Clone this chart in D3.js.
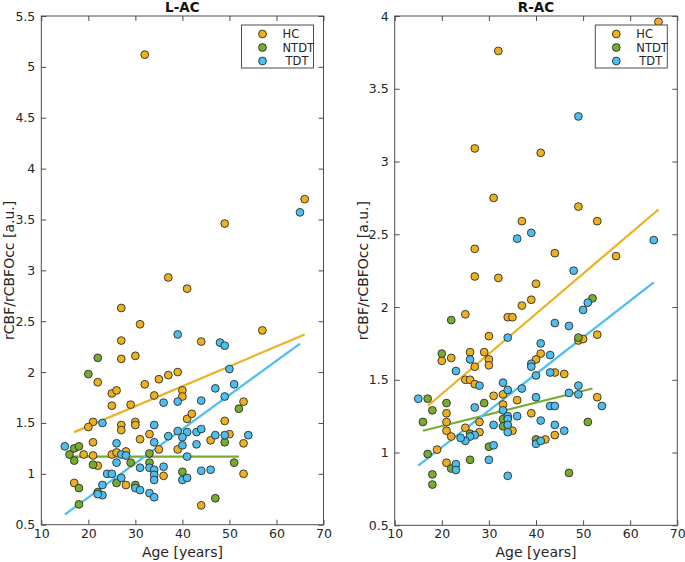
<!DOCTYPE html>
<html><head><meta charset="utf-8">
<script src="https://cdn.jsdelivr.net/npm/d3@7"></script>
<style>body{margin:0;background:#fff}svg{display:block;font-family:"DejaVu Sans",sans-serif}</style>
</head><body><svg id="c" width="685" height="562"></svg>
<script>
const groups = ["HC","NTDT","TDT"];
const colors = ["#EDB120","#77AC30","#4DBEEE"];
const xTicks = [10,20,30,40,50,60,70];
const leftYTicks = [0.5,1,1.5,2,2.5,3,3.5,4,4.5,5,5.5];
const rightYTicks = [0.5,1,1.5,2,2.5,3,3.5,4];

// L-AC data [age, value]
const lacHC = [[32,5.12],[66,3.70],[49,3.46],[37,2.93],[41,2.82],[27,2.63],[31,2.47],[57,2.41],[27,2.31],[44,2.30],[30,2.16],[27,2.13],[22,1.90],[25,1.79],[26,1.82],[25,1.67],[29,1.68],[32,1.88],[35,1.93],[37,1.97],[39,2.00],[34,1.77],[40,1.82],[40,1.76],[21,1.51],[20,1.46],[27,1.48],[27,1.43],[30,1.51],[30,1.48],[31,1.34],[33,1.39],[41,1.54],[42,1.59],[49,1.52],[53,1.71],[50,1.39],[46,1.33],[53,1.30],[53,1.00],[21,1.31],[19,1.19],[21,1.18],[22,1.08],[25,1.19],[26,1.21],[28,1.22],[35,1.24],[39,1.24],[17,0.91],[28,0.89],[36,0.98],[44,0.69]];
const lacNTDT = [[22,2.14],[20,1.98],[17,1.25],[18,1.27],[16,1.19],[17,1.13],[21,1.09],[29,1.11],[33,1.11],[33,1.20],[40,1.02],[18,0.86],[26,0.91],[30,0.89],[22,0.82],[18,0.70],[52,1.64],[49,1.31],[51,1.11],[47,0.76]];
const lacTDT = [[65,3.57],[39,2.37],[48,2.29],[49,2.26],[50,2.03],[51,1.88],[47,1.84],[49,1.76],[44,1.72],[36,1.70],[39,1.71],[23,1.50],[34,1.48],[41,1.41],[43,1.41],[44,1.44],[47,1.38],[49,1.38],[54,1.38],[37,1.37],[40,1.36],[39,1.42],[43,1.29],[26,1.30],[34,1.31],[15,1.27],[27,1.19],[28,1.18],[26,1.11],[41,1.17],[40,1.28],[31,1.06],[33,1.06],[34,1.04],[34,0.99],[34,0.94],[36,1.07],[24,1.00],[25,1.00],[27,0.96],[23,0.89],[23,0.79],[30,0.86],[31,0.84],[33,0.81],[34,0.77],[40,0.94],[41,0.96],[44,1.03],[46,1.04],[22,0.80]];
const lacFitHC = [[17,1.41],[66,2.37]];
const lacFitNTDT = [[16,1.17],[52,1.17]];
const lacFitTDT = [[15,0.60],[65,2.28]];

// R-AC data [age, value]
const racHC = [[66,3.96],[32,3.76],[27,3.09],[41,3.06],[31,2.75],[49,2.69],[53,2.59],[37,2.59],[27,2.40],[44,2.37],[57,2.35],[27,2.21],[32,2.20],[40,2.16],[39,2.05],[37,2.01],[25,1.95],[34,1.93],[35,1.93],[30,1.80],[49,1.77],[50,1.78],[53,1.81],[20,1.63],[22,1.65],[26,1.69],[29,1.69],[30,1.64],[30,1.60],[41,1.68],[40,1.64],[27,1.59],[25,1.50],[26,1.50],[27,1.47],[46,1.54],[44,1.55],[21,1.27],[21,1.21],[21,1.15],[22,1.11],[19,1.02],[21,0.93],[31,1.39],[33,1.40],[36,1.36],[39,1.27],[33,1.33],[35,1.15],[28,1.21],[28,1.14],[25,1.17],[53,1.38],[44,1.12],[42,1.09]];
const racNTDT = [[52,2.06],[22,1.91],[20,1.68],[49,1.79],[17,1.37],[18,1.29],[21,1.34],[16,1.21],[17,0.99],[22,0.89],[18,0.85],[18,0.78],[29,1.34],[33,1.23],[33,1.18],[26,1.13],[30,1.04],[26,0.95],[40,1.09],[51,1.21],[47,0.86]];
const racTDT = [[49,3.31],[36,2.47],[39,2.51],[65,2.46],[48,2.25],[51,2.03],[50,1.98],[44,1.89],[47,1.87],[34,1.79],[41,1.75],[26,1.64],[43,1.67],[39,1.61],[39,1.59],[23,1.56],[28,1.46],[40,1.53],[43,1.55],[15,1.37],[27,1.31],[33,1.48],[34,1.43],[37,1.44],[40,1.38],[33,1.29],[34,1.25],[34,1.23],[34,1.19],[34,1.14],[36,1.25],[31,1.19],[27,1.12],[26,1.11],[25,1.08],[24,1.10],[31,1.05],[30,0.95],[34,0.84],[40,1.06],[41,1.22],[41,1.08],[49,1.46],[47,1.41],[49,1.40],[54,1.32],[43,1.32],[44,1.32],[44,1.19],[46,1.15],[23,0.92],[23,0.88]];
const racFitHC = [[17,1.32],[66,2.67]];
const racFitNTDT = [[16,1.15],[52,1.44]];
const racFitTDT = [[15,0.91],[65,2.17]];

const svg = d3.select("#c");
const axisColor = "#4d4d4d";

function panel(opts){
  const {x0,x1,y0,y1,yDomain,yTicks,title,pts,fits} = opts;
  const x = d3.scaleLinear().domain([10,70]).range([x0,x1]);
  const y = d3.scaleLinear().domain(yDomain).range([y1,y0]);
  const g = svg.append("g");
  g.append("rect").attr("x",x0).attr("y",y0).attr("width",x1-x0).attr("height",y1-y0)
    .attr("fill","none").attr("stroke",axisColor).attr("stroke-width",1);
  const fmt = d=>String(d);
  const ax = g.append("g").attr("transform",`translate(0,${y1})`)
    .call(d3.axisBottom(x).tickValues(xTicks).tickSize(-5).tickPadding(4).tickFormat(fmt));
  const axT = g.append("g").attr("transform",`translate(0,${y0})`)
    .call(d3.axisTop(x).tickValues(xTicks).tickSize(-5).tickFormat(""));
  const ay = g.append("g").attr("transform",`translate(${x0},0)`)
    .call(d3.axisLeft(y).tickValues(yTicks).tickSize(-5).tickPadding(6).tickFormat(fmt));
  const ayR = g.append("g").attr("transform",`translate(${x1},0)`)
    .call(d3.axisRight(y).tickValues(yTicks).tickSize(-5).tickFormat(""));
  [ax,axT,ay,ayR].forEach(a=>{
    a.select(".domain").remove();
    a.selectAll("line").attr("stroke",axisColor);
    a.selectAll("text").attr("fill","#262626").style("font-size","12.5px").style("font-family","DejaVu Sans, sans-serif");
  });
  g.append("text").attr("x",(x0+x1)/2).attr("y",y0-4).attr("text-anchor","middle")
    .style("font-weight","bold").style("font-size","13.5px").attr("fill","#111").text(title);
  g.append("text").attr("x",(x0+x1)/2).attr("y",557).attr("text-anchor","middle")
    .style("font-size","14px").attr("fill","#262626").text("Age [years]");
  g.append("text").attr("transform",`translate(${x0-27},${(y0+y1)/2}) rotate(-90)`).attr("text-anchor","middle")
    .style("font-size","14px").attr("fill","#262626").text("rCBF/rCBFOcc [a.u.]");
  const line = d3.line().x(d=>x(d[0])).y(d=>y(d[1]));
  fits.forEach((f,i)=>{
    g.append("path").attr("d",line(f)).attr("stroke",colors[i]).attr("stroke-width",2.2).attr("fill","none");
  });
  pts.forEach((p,i)=>{
    g.append("g").selectAll("circle").data(p).join("circle")
      .attr("cx",d=>x(d[0])).attr("cy",d=>y(d[1])).attr("r",3.9)
      .attr("fill",colors[i]).attr("stroke","#2b2b2b").attr("stroke-width",0.9);
  });
  const lx = x1-82, ly = y0+9;
  g.append("rect").attr("x",lx).attr("y",ly).attr("width",72).attr("height",43)
    .attr("fill","#fff").attr("stroke",axisColor).attr("stroke-width",1);
  const textOff = [41,41,44];
  groups.forEach((n,i)=>{
    const yy = ly+9+i*13.5;
    g.append("circle").attr("cx",lx+21).attr("cy",yy).attr("r",3.9)
      .attr("fill",colors[i]).attr("stroke","#2b2b2b").attr("stroke-width",0.9);
    g.append("text").attr("x",lx+textOff[i]).attr("y",yy+4.3)
      .style("font-size","11.5px").attr("fill","#262626").text(n);
  });
}

panel({x0:41.3,x1:323.5,y0:16,y1:524.7,yDomain:[0.5,5.5],yTicks:leftYTicks,title:"L-AC",
  pts:[lacHC,lacNTDT,lacTDT],fits:[lacFitHC,lacFitNTDT,lacFitTDT]});
panel({x0:394.7,x1:677.3,y0:16,y1:525.3,yDomain:[0.5,4],yTicks:rightYTicks,title:"R-AC",
  pts:[racHC,racNTDT,racTDT],fits:[racFitHC,racFitNTDT,racFitTDT]});
</script></body></html>
